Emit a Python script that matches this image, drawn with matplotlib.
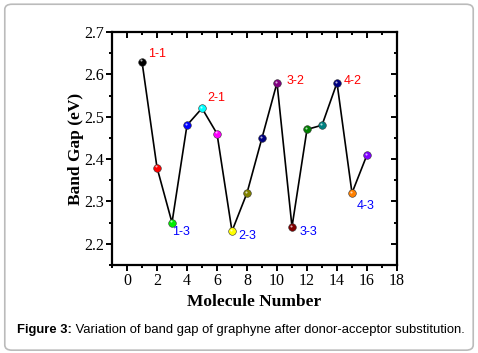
import numpy as np
import matplotlib.pyplot as plt
from matplotlib.patches import FancyBboxPatch
from matplotlib.ticker import MultipleLocator

molecule = [1, 2, 3, 4, 5, 6, 7, 8, 9, 10, 11, 12, 13, 14, 15, 16]
band_gap = [2.63, 2.38, 2.25, 2.48, 2.52, 2.46, 2.23, 2.32, 2.45, 2.58,
            2.24, 2.47, 2.48, 2.58, 2.32, 2.41]
point_colors = ['#000000', '#ff0000', '#00ee00', '#0000ff', '#00ffff', '#ff00ff',
                '#ffff00', '#808000', '#000080', '#800080', '#800000', '#008000',
                '#008080', '#000080', '#ff8000', '#8000ff']
red_labels = ['1-1', '2-1', '3-2', '4-2']
red_pos = [(1.4, 2.648), (5.33, 2.544), (10.67, 2.584), (14.47, 2.584)]
blue_labels = ['1-3', '2-3', '3-3', '4-3']
blue_pos = [(3.0, 2.228), (7.4, 2.219), (11.53, 2.228), (15.33, 2.29)]

fig = plt.figure(figsize=(4.78, 3.53), dpi=100)
fig.patches.append(FancyBboxPatch((0.01, 0.008), 0.98, 0.98, boxstyle='round,pad=0,rounding_size=0.015',
                                  transform=fig.transFigure, fc='white', ec='#bbbbbb', lw=1.2, zorder=-5))
ax = fig.add_axes([112/478, 1-265/353, 285/478, 233/353])
ax.patch.set_alpha(0)
ax.plot(molecule, band_gap, c='black', lw=1.2, zorder=2)
for x, y, c in zip(molecule, band_gap, point_colors):
    ax.plot(x, y, 'o', ms=5.5, mfc=c, mec='#333333', mew=0.4, zorder=3)
    ax.plot(x - 0.08, y + 0.003, 'o', ms=1.5, mfc='white', mec='none', alpha=0.7, zorder=4)
for t, (x, y) in zip(red_labels, red_pos):
    ax.text(x, y, t, color='red', fontsize=9, family='Liberation Sans', va='center')
for t, (x, y) in zip(blue_labels, blue_pos):
    ax.text(x, y, t, color='blue', fontsize=9, family='Liberation Sans', va='center')

ax.set_xlim(-1, 18); ax.set_ylim(2.15, 2.7)
ax.xaxis.set_major_locator(MultipleLocator(2)); ax.xaxis.set_minor_locator(MultipleLocator(1))
ax.yaxis.set_major_locator(MultipleLocator(0.1)); ax.yaxis.set_minor_locator(MultipleLocator(0.05))
ax.set_xticks(range(0, 19, 2))
ax.set_yticks([2.2, 2.3, 2.4, 2.5, 2.6, 2.7])
for s in ax.spines.values():
    s.set_linewidth(1.6)
ax.tick_params(which='both', direction='out', width=1.4, labelsize=11.5, pad=1.5)
ax.tick_params(which='major', length=4)
ax.tick_params(which='minor', length=2.5)
ax.tick_params(which='both', top=True, right=True)
for t in ax.get_xticklabels() + ax.get_yticklabels():
    t.set_family('Liberation Serif')
# top and right ticks point inward
for tl in ax.xaxis.get_major_ticks() + ax.xaxis.get_minor_ticks():
    tl.tick2line.set_marker(3)
for tl in ax.yaxis.get_major_ticks() + ax.yaxis.get_minor_ticks():
    tl.tick2line.set_marker(0)
ax.set_xlabel('Molecule Number', family='Liberation Serif', fontweight='bold', fontsize=12.5, labelpad=4)
ax.set_ylabel('Band Gap (eV)', family='Liberation Serif', fontweight='bold', fontsize=12.5, labelpad=0)

cap = fig.text(17/478, 1-330/353, 'Figure 3:', fontsize=9.4, va='center', family='Liberation Sans',
               fontweight='bold')
ax.annotate(' Variation of band gap of graphyne after donor-acceptor substitution.',
            xy=(1, 0), xycoords=cap, va='bottom', fontsize=9.4, family='Liberation Sans',
            annotation_clip=False)
fig.savefig('out.png', dpi=100)
